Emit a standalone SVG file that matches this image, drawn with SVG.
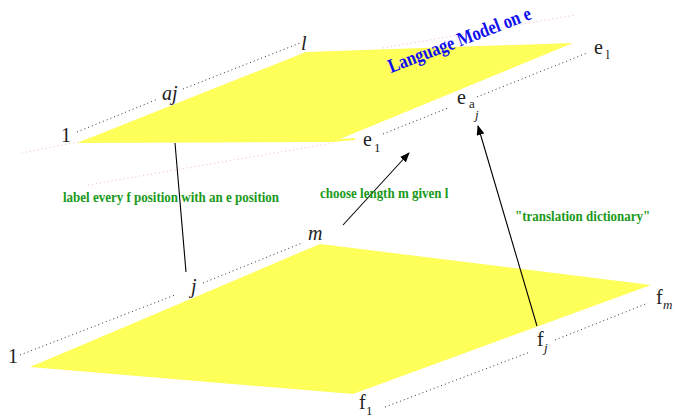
<svg xmlns="http://www.w3.org/2000/svg" width="676" height="418" viewBox="0 0 676 418">
<defs>
<style>
.plane{fill:#ffff5a;stroke:none}
.dot{stroke:#333;stroke-width:1;stroke-dasharray:1 3;fill:none}
.pink{stroke:#f5b8c4;stroke-width:1;stroke-dasharray:1 3;fill:none}
.ln{stroke:#000;stroke-width:1.1;fill:none}
.math{font-family:"Liberation Serif",serif;font-size:20px;fill:#222}
.it{font-style:italic}
.sub{font-size:13px}
.green{font-family:"Liberation Serif",serif;font-weight:bold;font-size:13px;fill:#1a9a1a}
.blue{font-family:"Liberation Serif",serif;font-weight:bold;font-size:16.5px;fill:#1010ee}
</style>
<marker id="ah" markerWidth="10" markerHeight="8" refX="9" refY="4" orient="auto" markerUnits="userSpaceOnUse">
<path d="M0,0 L10,4 L0,8 Z" fill="#000"/>
</marker>
</defs>
<g id="planes">
<polygon id="e-plane" class="plane" points="77,143 306,52 573,43 340,139 355,138 355,140 332,142"/>
<polygon id="f-plane" class="plane" points="30,367 320,244 651,285 353,394"/>
</g>
<g id="shadows">
<line class="pink" x1="22" y1="153" x2="78" y2="142"/>
<line class="pink" x1="88" y1="185" x2="333" y2="143"/>
<line class="pink" x1="383" y1="48" x2="575" y2="15"/>
</g>
<g id="axes">
<line class="dot" x1="77" y1="132" x2="158" y2="99"/>
<line class="dot" x1="183" y1="89" x2="300" y2="43"/>
<line class="dot" x1="383" y1="134" x2="448" y2="108"/>
<line class="dot" x1="477" y1="97" x2="587" y2="53"/>
<line class="dot" x1="20" y1="355" x2="175" y2="295"/>
<line class="dot" x1="203" y1="283" x2="302" y2="243"/>
<line class="dot" x1="385" y1="407" x2="530" y2="352"/>
<line class="dot" x1="555" y1="340" x2="648" y2="303"/>
</g>
<g id="connectors">
<line class="ln" x1="175" y1="143" x2="186" y2="272"/>
<line class="ln" x1="343" y1="225" x2="409" y2="153" marker-end="url(#ah)"/>
<line class="ln" x1="537" y1="326" x2="478" y2="126" marker-end="url(#ah)"/>
</g>
<g id="e-labels">
<text class="math" x="61" y="142">1</text>
<text class="math it" x="162" y="100">aj</text>
<text class="math it" x="301" y="50">l</text>
<text class="math" x="363" y="146">e</text>
<text class="math sub" x="374" y="152">1</text>
<text class="math" x="457" y="104">e</text>
<text class="math sub" x="469" y="108">a</text>
<text class="math sub it" x="475" y="119">j</text>
<text class="math" x="594" y="54">e</text>
<text class="math sub" x="606" y="59">l</text>
</g>
<g id="f-labels">
<text class="math" x="8" y="363">1</text>
<text class="math it" x="191" y="293">j</text>
<text class="math it" x="308" y="240">m</text>
<text class="math" x="359" y="409">f</text>
<text class="math sub" x="366" y="415">1</text>
<text class="math" x="537" y="346">f</text>
<text class="math sub it" x="544" y="352">j</text>
<text class="math" x="656" y="304">f</text>
<text class="math sub it" x="663" y="309">m</text>
</g>
<g id="texts">
<text class="blue" transform="translate(391,73) rotate(-21) scale(1,1.2)">Language Model on e</text>
<text class="green" transform="translate(63,202) scale(1,1.2)">label every f position with an e position</text>
<text class="green" transform="translate(320,198) scale(1,1.2)">choose length m given l</text>
<text class="green" transform="translate(515,221) scale(1,1.2)">"translation dictionary"</text>
</g>
</svg>
